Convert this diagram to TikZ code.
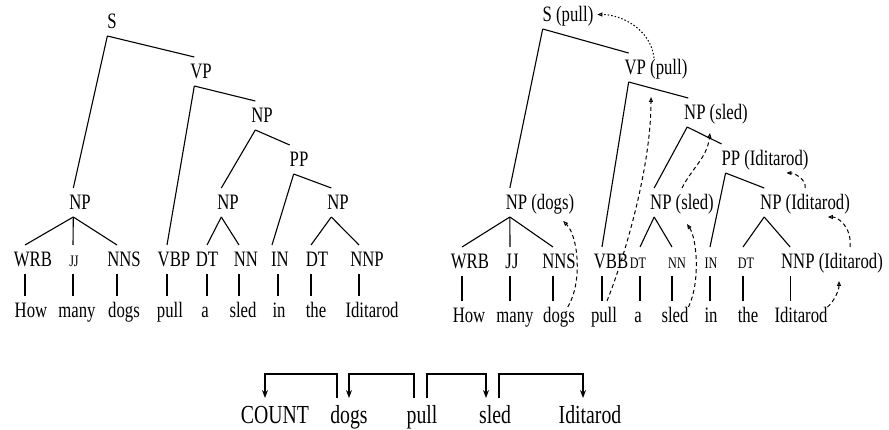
\documentclass[tikz,border=0pt]{standalone}
\usepackage{fontspec}
\setmainfont{Liberation Serif}
\usetikzlibrary{arrows.meta}

\begin{document}
\begin{tikzpicture}[x=1pt,
y=-1pt,
line width=1.1pt,
every node/.style={
inner sep=0pt,
outer xsep=0pt,
outer ysep=7pt,
text height=15pt,
text depth=0pt,
anchor=base,
xscale=0.76,
font=\fontsize{22}{24}\selectfont,
},
small/.style={
font=\fontsize{16}{18}\selectfont,
},
dep/.style={
font=\fontsize{26}{28}\selectfont,
text height=18pt,
},
link/.style={
line width=1pt,
dash pattern=on 4pt off 3pt,
-{Triangle[open,length=5pt,width=4pt]},
},
arc/.style={
-{Stealth[length=8pt,width=6pt]},
}]
\useasboundingbox (0,0) rectangle (889,430);

%left tree
\node (sL) at (112,29) {S};
\node (vpL) at (201,79) {VP};
\node (npL2) at (262,123) {NP};
\node (ppL) at (299,167) {PP};
\node (npL1) at (80,210) {NP};
\node (npL3) at (228,210) {NP};
\node (npL4) at (338,210) {NP};

\node (wrbL) at (33,267) {WRB};
\node[small] (jjL) at (74,267) {JJ};
\node (nnsL) at (124,267) {NNS};
\node (vbpL) at (174,267) {VBP};
\node (dtL1) at (207,267) {DT};
\node (nnL) at (246,267) {NN};
\node (inL) at (280,267) {IN};
\node (dtL2) at (317,267) {DT};
\node (nnpL) at (367,267) {NNP};

\node (howL) at (31,318) {How};
\node (manyL) at (77,318) {many};
\node (dogsL) at (124,318) {dogs};
\node (pullL) at (170,318) {pull};
\node (aL) at (205,318) {a};
\node (sledL) at (243,318) {sled};
\node (inwL) at (279,318) {in};
\node (theL) at (316,318) {the};
\node (iditL) at (372,318) {Iditarod};

\draw (sL.south west) -- ([xshift=4pt]npL1.north west);
\draw (sL.south west) -- ([xshift=4pt]vpL.north west);
\draw ([xshift=4pt]vpL.south west) -- ([xshift=-7pt]vbpL.north);
\draw ([xshift=4pt]vpL.south west) -- ([xshift=4pt]npL2.north west);
\draw ([xshift=4pt]npL2.south west) -- ([xshift=4pt]npL3.north west);
\draw ([xshift=4pt]npL2.south west) -- (ppL.north west);
\draw ([xshift=4pt]ppL.south west) -- ([xshift=-8pt]inL.north);
\draw ([xshift=4pt]ppL.south west) -- ([xshift=4pt]npL4.north west);
\draw ([xshift=4pt]npL1.south west) -- ([xshift=-8pt]wrbL.north);
\draw ([xshift=4pt]npL1.south west) -- ([xshift=-1pt]jjL.north);
\draw ([xshift=4pt]npL1.south west) -- ([xshift=-7pt]nnsL.north);
\draw ([xshift=4pt]npL3.south west) -- (dtL1.north);
\draw ([xshift=4pt]npL3.south west) -- ([xshift=-7pt]nnL.north);
\draw ([xshift=4pt]npL4.south west) -- ([xshift=-6pt]dtL2.north);
\draw ([xshift=4pt]npL4.south west) -- ([xshift=-8pt]nnpL.north);

\draw ([xshift=-8pt]wrbL.south) -- ([xshift=-8pt]wrbL.south |- howL.north);
\draw ([xshift=-1pt]jjL.south) -- ([xshift=-1pt]jjL.south |- manyL.north);
\draw ([xshift=-7pt]nnsL.south) -- ([xshift=-7pt]nnsL.south |- dogsL.north);
\draw ([xshift=-7pt]vbpL.south) -- ([xshift=-7pt]vbpL.south |- pullL.north);
\draw (dtL1.south) -- (dtL1.south |- aL.north);
\draw ([xshift=-7pt]nnL.south) -- ([xshift=-7pt]nnL.south |- sledL.north);
\draw ([xshift=-2pt]inL.south) -- ([xshift=-2pt]inL.south |- inwL.north);
\draw ([xshift=-6pt]dtL2.south) -- ([xshift=-6pt]dtL2.south |- theL.north);
\draw ([xshift=-8pt]nnpL.south) -- ([xshift=-8pt]nnpL.south |- iditL.north);

%right tree, heads
\node (sR) at (568,22) {S (pull)};
\node (vpR) at (656,75) {VP (pull)};
\node (npR2) at (716,120) {NP (sled)};
\node (ppR) at (765,166) {PP (Iditarod)};
\node (npR1) at (540,210) {NP (dogs)};
\node (npR3) at (682,210) {NP (sled)};
\node (npR4) at (805,210) {NP (Iditarod)};

\node (wrbR) at (470,269) {WRB};
\node (jjR) at (512,269) {JJ};
\node (nnsR) at (559,269) {NNS};
\node (vbbR) at (611,269) {VBB};
\node[small] (dtR1) at (638,269) {DT};
\node[small] (nnR) at (677,269) {NN};
\node[small] (inR) at (711,269) {IN};
\node[small] (dtR2) at (746,269) {DT};
\node (nnpR) at (832,269) {NNP (Iditarod)};

\node (howR) at (469,323) {How};
\node (manyR) at (515,323) {many};
\node (dogsR) at (559,323) {dogs};
\node (pullR) at (604,323) {pull};
\node (aR) at (638,323) {a};
\node (sledR) at (675,323) {sled};
\node (inwR) at (711,323) {in};
\node (theR) at (748,323) {the};
\node (iditR) at (801,323) {Iditarod};

\draw (sR.south west) -- ([xshift=4pt]npR1.north west);
\draw (sR.south west) -- ([xshift=4pt]vpR.north west);
\draw ([xshift=4pt]vpR.south west) -- ([xshift=-9pt]vbbR.north);
\draw ([xshift=4pt]vpR.south west) -- ([xshift=4pt]npR2.north west);
\draw ([xshift=3pt]npR2.south west) -- ([xshift=4pt]npR3.north west);
\draw ([xshift=3pt]npR2.south west) -- (ppR.north west);
\draw ([xshift=4pt]ppR.south west) -- ([xshift=-1pt]inR.north);
\draw ([xshift=4pt]ppR.south west) -- ([xshift=4pt]npR4.north west);
\draw ([xshift=4pt]npR1.south west) -- ([xshift=-8pt]wrbR.north);
\draw ([xshift=4pt]npR1.south west) -- ([xshift=-2pt]jjR.north);
\draw ([xshift=4pt]npR1.south west) -- ([xshift=-6pt]nnsR.north);
\draw ([xshift=4pt]npR3.south west) -- ([xshift=2pt]dtR1.north);
\draw ([xshift=4pt]npR3.south west) -- ([xshift=-5pt]nnR.north);
\draw ([xshift=4pt]npR4.south west) -- ([xshift=-3pt]dtR2.north);
\draw ([xshift=4pt]npR4.south west) -- ([xshift=9pt]nnpR.north west);

\draw ([xshift=-8pt]wrbR.south) -- ([xshift=-8pt]wrbR.south |- howR.north);
\draw ([xshift=-2pt]jjR.south) -- ([xshift=-2pt]jjR.south |- manyR.north);
\draw ([xshift=-6pt]nnsR.south) -- ([xshift=-6pt]nnsR.south |- dogsR.north);
\draw ([xshift=-9pt]vbbR.south) -- ([xshift=-9pt]vbbR.south |- pullR.north);
\draw ([xshift=2pt]dtR1.south) -- ([xshift=2pt]dtR1.south |- aR.north);
\draw ([xshift=-5pt]nnR.south) -- ([xshift=-5pt]nnR.south |- sledR.north);
\draw ([xshift=-1pt]inR.south) -- ([xshift=-1pt]inR.south |- inwR.north);
\draw ([xshift=-3pt]dtR2.south) -- ([xshift=-3pt]dtR2.south |- theR.north);
\draw ([xshift=9pt]nnpR.south west) -- ([xshift=9pt]nnpR.south west |- iditR.north);

%head links
\draw[link,dash pattern=on 1.5pt off 2pt] ([xshift=-2pt,yshift=-5pt]vpR.north) .. controls +(-3,-28) and +(25,0) .. ([xshift=4pt]sR.east);
\draw[link] ([xshift=3pt]pullR.north) .. controls +(18,-45) and +(0,70) .. ([xshift=-5pt,yshift=-15pt]vpR.south);
\draw[link] ([yshift=-6pt]sledR.north east) .. controls +(12,-25) and +(10,15) .. ([xshift=5pt,yshift=-7pt]npR3.south);
\draw[link] (npR3.north) .. controls +(10,-20) and +(-3,25) .. ([xshift=-6pt,yshift=-6pt]npR2.south);
\draw[link] ([xshift=-7pt,yshift=-6pt]dogsR.north east) .. controls +(15,-25) and +(15,15) .. ([xshift=-11pt,yshift=-4pt]npR1.south east);
\draw[link] ([yshift=-6pt]iditR.north east) .. controls +(6,-5) and +(0,10) .. ([xshift=7pt,yshift=-5pt]nnpR.south);
\draw[link] ([xshift=18pt]nnpR.north) .. controls +(2,-20) and +(10,0) .. ([xshift=-22pt]npR4.south east);
\draw[link] (npR4.north) .. controls +(2,-8) and +(8,0) .. ([xshift=-22pt]ppR.south east);

%dependencies
\node[dep] (countB) at (275,423) {COUNT};
\node[dep] (dogsB) at (349,423) {dogs};
\node[dep] (pullB) at (422,423) {pull};
\node[dep] (sledB) at (495,423) {sled};
\node[dep] (iditB) at (590,423) {Iditarod};

\draw[arc] ([xshift=-12pt]dogsB.north) -- ([xshift=-12pt,yshift=24pt]dogsB.north) -| ([xshift=-10pt]countB.north);
\draw[arc] ([xshift=-8pt]pullB.north) -- ([xshift=-8pt,yshift=24pt]pullB.north) -| (dogsB.north);
\draw[arc] ([xshift=5pt]pullB.north) -- ([xshift=5pt,yshift=24pt]pullB.north) -| ([xshift=-9pt]sledB.north);
\draw[arc] ([xshift=4pt]sledB.north) -- ([xshift=4pt,yshift=24pt]sledB.north) -| ([xshift=-7pt]iditB.north);
\end{tikzpicture}
\end{document}
